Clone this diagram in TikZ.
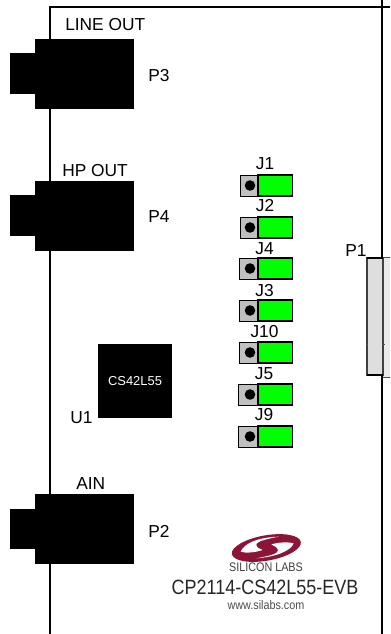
\documentclass[tikz,border=0pt]{standalone}
\usepackage{fontspec}
\setmainfont{Liberation Sans}
\definecolor{jgreen}{RGB}{0,255,0}
\definecolor{jgray}{RGB}{192,192,192}
\definecolor{pgray}{RGB}{222,222,222}
\definecolor{pgrayb}{RGB}{234,234,234}
\definecolor{logored}{RGB}{140,20,55}
\tikzset{
  lbl/.style={inner sep=0pt,font=\fontsize{13}{14}\selectfont,text=black},
  blk/.style={fill=black,draw=none},
  edgeline/.style={line width=1.8pt,draw=black},
  smalltext/.style={inner sep=0pt,font=\fontsize{9.3}{10}\selectfont},
}
\begin{document}
\begin{tikzpicture}[x=0.75pt,y=-0.75pt]
\useasboundingbox (0,0) rectangle (390,634);
% board edge
\coordinate (tl) at (50,7); \coordinate (tr) at (390,7); \coordinate (bl) at (50,634);
\coordinate (rt) at (382,0); \coordinate (rm) at (382,258); \coordinate (rn) at (382,375); \coordinate (rb) at (382,634);
\draw[edgeline] (bl) -- (tl) -- (tr);
\draw[edgeline] (rt) -- (rm);
\draw[edgeline] (rn) -- (rb);
% connectors
\foreach \y in {39,181,494}{
  \fill[black] (35,\y) rectangle (134,\y+70);
  \fill[black] (10,\y+14.5) rectangle (35,\y+55);
}
\node[lbl,anchor=base west] (lineout) at (65,31) {LINE OUT};
\node[lbl,anchor=base west] (p3) at (148,81.5) {P3};
\node[lbl,anchor=base west] (hpout) at (62,176.5) {HP OUT};
\node[lbl,anchor=base west] (p4) at (148,223) {P4};
\node[lbl,anchor=base west] (ain) at (76,489) {AIN};
\node[lbl,anchor=base west] (p2) at (148,537.5) {P2};
% chip
\node[blk,minimum width=55.5pt,minimum height=55.5pt,inner sep=0pt,text=white,font=\fontsize{9.7}{11}\selectfont] (u1chip) at (135,381) {CS42L55};
\node[lbl,anchor=base west] (u1) at (70,423) {U1};
% jumpers
\foreach \x/\y in {240/175,240/217,239/258,239/300,239/342,238.5/384,238.5/426}{
  \fill[jgray] (\x,\y) rectangle (258,\y+21);
  \draw[line width=0.6pt,draw=black] (\x,\y) rectangle (258,\y+21);
  \fill[black] (250,\y+10.5) circle (5.3);
  \filldraw[fill=jgreen,draw=black,line width=1.1pt] (258,\y) rectangle (292.5,\y+21);
}
\node[lbl,anchor=base] (j1) at (265,170) {J1};
\node[lbl,anchor=base] (j2) at (265,212) {J2};
\node[lbl,anchor=base] (j4) at (264.5,254) {J4};
\node[lbl,anchor=base] (j3) at (264.5,296) {J3};
\node[lbl,anchor=base] (j10) at (264.5,337) {J10};
\node[lbl,anchor=base] (j5) at (264,379) {J5};
\node[lbl,anchor=base] (j9) at (264,420.5) {J9};
% P1
\node[lbl,anchor=base west] (p1) at (345,257) {P1};
\fill[pgrayb] (383.3,257) rectangle (390,377);
\draw[line width=0.6pt,black!70] (383,257) -- (390,257);
\draw[line width=0.6pt,black!70] (383,377.5) -- (390,377.5);
\filldraw[fill=pgray,draw=black!75,line width=0.8pt] (367,258) rectangle (383,375);
\draw[line width=1.1pt,black] (367,258) -- (383,258);
\draw[line width=1.1pt,black] (367,375) -- (383,375);
\draw[line width=0.4pt,black!70] (366,344) -- (368,344);
\draw[line width=0.4pt,black!70] (382,344) -- (385,344);
% logo
\begin{scope}[shift={(228,530)},xscale=1/3,yscale=1/3]
  \fill[logored] (115,54) ellipse [x radius=105,y radius=38,rotate=10];
  \fill[white] (38,65) .. controls (48,40) and (90,22) .. (152,20)
     .. controls (120,26) and (85,34) .. (85,44)
     .. controls (85,54) and (96,56) .. (104,60)
     .. controls (80,68) and (52,70) .. (38,65) -- cycle;
  \fill[white] (197,40) .. controls (190,60) and (150,80) .. (85,85)
     .. controls (120,78) and (150,72) .. (150,62)
     .. controls (150,52) and (138,48) .. (130,43)
     .. controls (150,37) and (180,35) .. (197,40) -- cycle;
\end{scope}
\node[smalltext,text=black!75] (sl) at (266,567.5) {\addfontfeature{FakeStretch=0.87}SILICON LABS};
\node[inner sep=0pt,font=\fontsize{15.5}{17}\selectfont,text=black!85] (evb) at (265,587.5) {\addfontfeature{FakeStretch=0.87}CP2114-CS42L55-EVB};
\node[smalltext,text=black!70] (www) at (266,605.5) {\addfontfeature{FakeStretch=0.87}www.silabs.com};
\end{tikzpicture}
\end{document}
